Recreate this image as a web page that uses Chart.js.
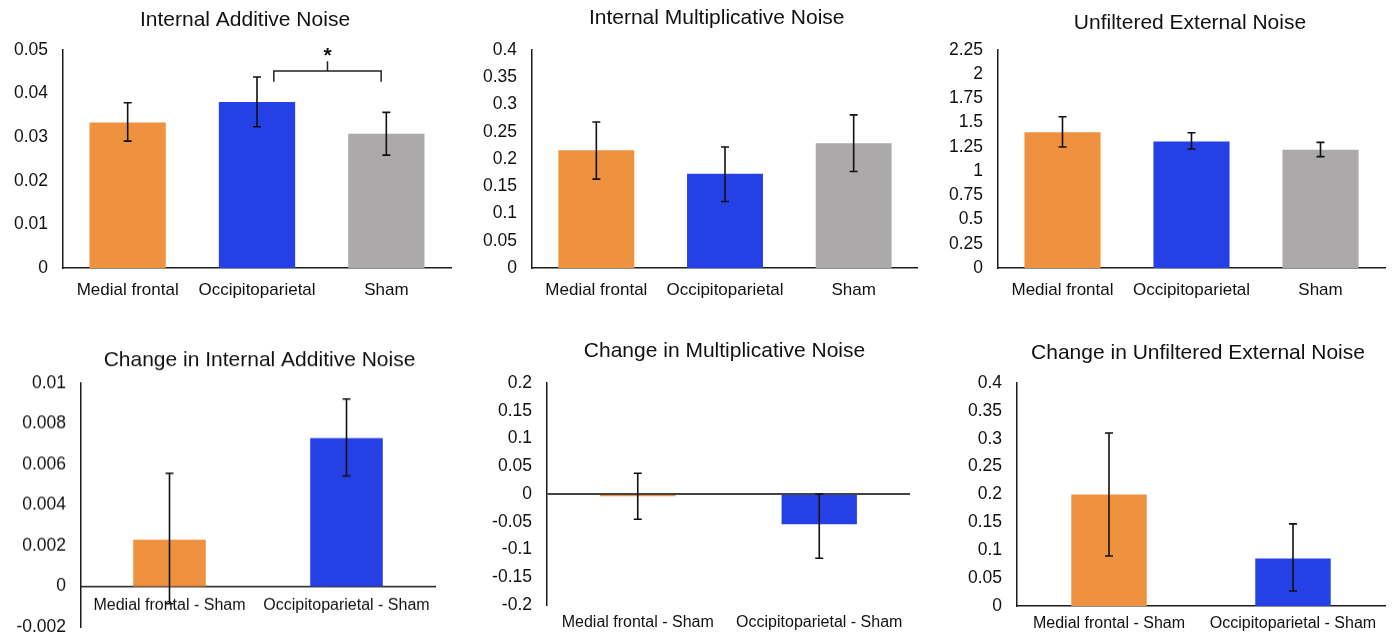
<!DOCTYPE html>
<html>
<head>
<meta charset="utf-8">
<script src="https://cdn.jsdelivr.net/npm/chart.js@4.4.0/dist/chart.umd.min.js"></script>
<style>
  html, body { margin: 0; padding: 0; background: #fff; }
  body { width: 1395px; height: 635px; position: relative; overflow: hidden; }
  .panel { position: absolute; }
</style>
</head>
<body>
<div class="panel" id="p1"><canvas id="c1"></canvas></div>
<div class="panel" id="p2"><canvas id="c2"></canvas></div>
<div class="panel" id="p3"><canvas id="c3"></canvas></div>
<div class="panel" id="p4"><canvas id="c4"></canvas></div>
<div class="panel" id="p5"><canvas id="c5"></canvas></div>
<div class="panel" id="p6"><canvas id="c6"></canvas></div>
<script>
// categories
const groups = ['Medial frontal', 'Occipitoparietal', 'Sham']
const diffGroups = ['Medial frontal - Sham', 'Occipitoparietal - Sham']
const groupColors = ['#EF9240', '#2541E5', '#ABA9A9']

// top row: means and error bar ends
const additive = [0.0334, 0.0381, 0.0308]
const additiveLo = [0.0291, 0.0324, 0.0259]
const additiveHi = [0.0379, 0.0438, 0.0357]

const multiplicative = [0.216, 0.173, 0.229]
const multiplicativeLo = [0.163, 0.122, 0.177]
const multiplicativeHi = [0.268, 0.222, 0.281]

const external = [1.40, 1.305, 1.22]
const externalLo = [1.249, 1.228, 1.149]
const externalHi = [1.561, 1.396, 1.297]

// bottom row: differences from sham
const dAdditive = [0.0023, 0.0073]
const dAdditiveLo = [-0.00085, 0.00543]
const dAdditiveHi = [0.00557, 0.00922]

const dMultiplicative = [-0.004, -0.0545]
const dMultiplicativeLo = [-0.0455, -0.1158]
const dMultiplicativeHi = [0.0375, 0]

const dExternal = [0.2, 0.085]
const dExternalLo = [0.0898, 0.0269]
const dExternalHi = [0.3102, 0.1473]

// y axis [min, max, step]
const additiveAxis = [0, 0.05, 0.01]
const multiplicativeAxis = [0, 0.4, 0.05]
const externalAxis = [0, 2.25, 0.25]
const dAdditiveAxis = [-0.002, 0.01, 0.002]
const dMultiplicativeAxis = [-0.2, 0.2, 0.05]
const dExternalAxis = [0, 0.4, 0.05]

// significance bracket between Occipitoparietal and Sham
const sigBracket = { from: 1.13, to: 1.96, level: 0.0452, drop: 0.0025, rise: 0.0022, mark: '*' }

Chart.defaults.font.family = "'Liberation Sans', Arial, sans-serif"
Chart.defaults.color = '#111'

const AXIS = '#1c1c1c'

function errorBars(lo, hi) {
  return {
    id: 'errorBars',
    afterDatasetsDraw(chart) {
      const { ctx } = chart
      const y = chart.scales.y
      ctx.save()
      ctx.strokeStyle = '#111'
      ctx.lineWidth = 1.6
      chart.getDatasetMeta(0).data.forEach((bar, i) => {
        const top = y.getPixelForValue(hi[i])
        const bottom = y.getPixelForValue(lo[i])
        ctx.beginPath()
        ctx.moveTo(bar.x, top); ctx.lineTo(bar.x, bottom)
        ctx.moveTo(bar.x - 4, top); ctx.lineTo(bar.x + 4, top)
        ctx.moveTo(bar.x - 4, bottom); ctx.lineTo(bar.x + 4, bottom)
        ctx.stroke()
      })
      ctx.restore()
    }
  }
}

const bracketPlugin = {
  id: 'bracket',
  afterDatasetsDraw(chart) {
    const { ctx, scales: { x, y } } = chart
    const b = sigBracket
    const x0 = x.getPixelForValue(b.from)
    const x1 = x.getPixelForValue(b.to)
    const xm = (x0 + x1) / 2
    const yl = y.getPixelForValue(b.level)
    const yd = y.getPixelForValue(b.level - b.drop)
    const yu = y.getPixelForValue(b.level + b.rise)
    ctx.save()
    ctx.strokeStyle = '#222'
    ctx.lineWidth = 1.5
    ctx.beginPath()
    ctx.moveTo(x0, yd); ctx.lineTo(x0, yl); ctx.lineTo(x1, yl); ctx.lineTo(x1, yd)
    ctx.moveTo(xm, yl); ctx.lineTo(xm, yu)
    ctx.stroke()
    ctx.fillStyle = '#111'
    ctx.font = "bold 21px 'Liberation Sans', Arial, sans-serif"
    ctx.textAlign = 'center'
    ctx.textBaseline = 'alphabetic'
    ctx.fillText(b.mark, xm, yu + 1)
    ctx.restore()
  }
}

const tickText = v => String(+Number(v).toFixed(4))

function panel(id, geo, opts) {
  const titleSize = 21
  const half = titleSize * 1.2 / 2
  const yw = geo.l - geo.left            // left axis box, holds the tick labels
  const w2 = 2 * geo.cx - geo.left - geo.r  // empty right box, shifts the title centre
  const pr = 4
  const xh = geo.xh || 0
  const pb = geo.pb || 0
  const box = document.getElementById('p' + id)
  box.style.left = geo.left + 'px'
  box.style.top = geo.top + 'px'
  box.style.width = (geo.r + w2 + pr - geo.left) + 'px'
  box.style.height = (geo.b - geo.top + xh + pb) + 'px'

  const [min, max, step] = opts.axis
  const xScale = {
    type: 'category',
    position: opts.xAtZero ? { y: 0 } : 'bottom',
    grid: { display: false, drawTicks: false },
    border: { display: !opts.noXBorder, color: AXIS, width: 1.5 },
    ticks: { padding: opts.xPad, font: { size: opts.xFont }, maxRotation: 0, autoSkip: false, color: '#111' }
  }
  if (!opts.xAtZero) xScale.afterFit = s => { s.height = xh }

  new Chart(document.getElementById('c' + id), {
    type: 'bar',
    data: {
      labels: opts.labels,
      datasets: [{
        data: opts.values,
        xAxisID: 'x',
        yAxisID: 'y',
        backgroundColor: groupColors.slice(0, opts.values.length),
        borderWidth: 0,
        barPercentage: 1,
        categoryPercentage: opts.barFrac
      }]
    },
    options: {
      responsive: true,
      maintainAspectRatio: false,
      animation: false,
      layout: { padding: { left: 0, right: pr, top: 0, bottom: 0 } },
      plugins: {
        legend: { display: false },
        tooltip: { enabled: false },
        title: {
          display: true,
          text: opts.title,
          color: '#111',
          font: { size: titleSize, weight: 'normal' },
          padding: { top: geo.cy - geo.top - half, bottom: geo.t - geo.cy - half }
        }
      },
      scales: {
        x: xScale,
        y: {
          min, max,
          position: 'left',
          grid: opts.zeroLine
            ? { display: true, drawTicks: false, lineWidth: 2, color: c => c.tick && c.tick.value === 0 ? '#444' : 'rgba(0,0,0,0)' }
            : { display: false, drawTicks: false },
          border: { display: true, color: AXIS, width: 1.5 },
          ticks: { stepSize: step, autoSkip: false, padding: 15, font: { size: 17.5 }, color: '#111', callback: tickText },
          afterFit: s => { s.width = yw }
        },
        yr: {
          type: 'linear',
          position: 'right',
          grid: { display: false, drawTicks: false },
          border: { display: false },
          ticks: { display: false },
          afterFit: s => { s.width = Math.max(w2, 0) }
        }
      }
    },
    plugins: [errorBars(opts.lo, opts.hi)].concat(opts.extra || [])
  })
}

panel(1, { left: 0, top: 0, l: 63, r: 451, t: 50, b: 268, cx: 245, cy: 20, xh: 36 }, {
  title: 'Internal Additive Noise', labels: groups, values: additive, lo: additiveLo, hi: additiveHi,
  axis: additiveAxis, barFrac: 0.59, xFont: 17, xPad: 12, extra: [bracketPlugin]
})
panel(2, { left: 465, top: 0, l: 532, r: 918, t: 50, b: 268, cx: 716.7, cy: 18, xh: 36 }, {
  title: 'Internal Multiplicative Noise', labels: groups, values: multiplicative, lo: multiplicativeLo, hi: multiplicativeHi,
  axis: multiplicativeAxis, barFrac: 0.59, xFont: 17, xPad: 12
})
panel(3, { left: 930, top: 0, l: 998, r: 1385, t: 50, b: 268, cx: 1190, cy: 23, xh: 36 }, {
  title: 'Unfiltered External Noise', labels: groups, values: external, lo: externalLo, hi: externalHi,
  axis: externalAxis, barFrac: 0.59, xFont: 17, xPad: 12
})
// x axis sits on zero here; the bottom room is what the y labels ask for (half label + tick padding)
panel(4, { left: 0, top: 320, l: 81, r: 435, t: 383, b: 626, cx: 259.5, cy: 360, pb: 25.5 }, {
  title: 'Change in Internal Additive Noise', labels: diffGroups, values: dAdditive, lo: dAdditiveLo, hi: dAdditiveHi,
  axis: dAdditiveAxis, barFrac: 0.41, xFont: 16, xPad: 9, xAtZero: true
})
panel(5, { left: 465, top: 320, l: 547, r: 910, t: 383, b: 605, cx: 724.5, cy: 351.7, xh: 30 }, {
  title: 'Change in Multiplicative Noise', labels: diffGroups, values: dMultiplicative, lo: dMultiplicativeLo, hi: dMultiplicativeHi,
  axis: dMultiplicativeAxis, barFrac: 0.415, xFont: 16, xPad: 8, noXBorder: true, zeroLine: true
})
panel(6, { left: 930, top: 320, l: 1017, r: 1385, t: 383, b: 606, cx: 1198, cy: 353, xh: 30 }, {
  title: 'Change in Unfiltered External Noise', labels: diffGroups, values: dExternal, lo: dExternalLo, hi: dExternalHi,
  axis: dExternalAxis, barFrac: 0.41, xFont: 16, xPad: 8
})
</script>
</body>
</html>
